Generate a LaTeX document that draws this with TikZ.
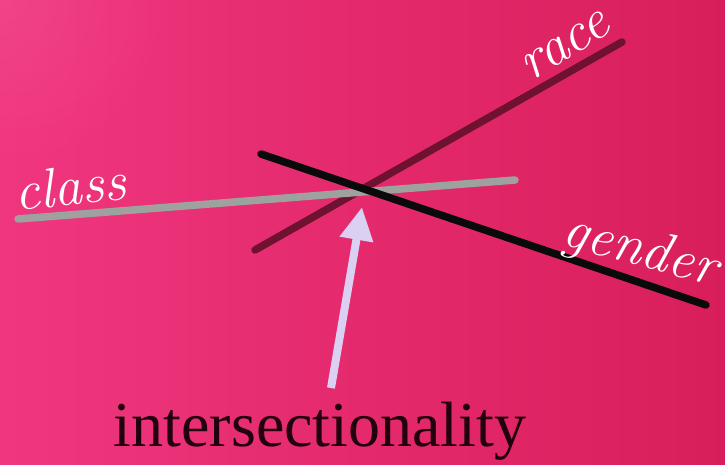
\documentclass[tikz,border=0pt]{standalone}
\usepackage{fontspec}
\usetikzlibrary{arrows.meta}
\newfontfamily\serifbig{Liberation Serif}
\definecolor{bgA}{HTML}{F0367F}
\definecolor{bgB}{HTML}{D81E5A}
\definecolor{classgrey}{HTML}{9EA29E}
\definecolor{racered}{HTML}{6E1230}
\definecolor{genderblk}{HTML}{0A0A0A}
\definecolor{arrowlav}{HTML}{DCD0F2}
\definecolor{titletext}{HTML}{22000E}
\tikzset{
  axisline/.style={line width=7.5pt, line cap=round},
  scriptlabel/.style={text=white, font=\itshape\fontsize{56}{60}\selectfont, inner sep=0pt},
  bigarrow/.style={draw=arrowlav, line width=8pt, -{Triangle[width=32pt,length=33pt]}, fill=arrowlav}
}
\begin{document}
\begin{tikzpicture}[x=1pt,y=-1pt]
\useasboundingbox (0,0) rectangle (725,464);
\shade[left color=bgA, right color=bgB] (0,0) rectangle (725,464);
\shade[inner color=bgA!80!white, outer color=bgA, opacity=0.35] (0,0) circle (160);
% line ends
\coordinate (raceA) at (255,250);
\coordinate (raceB) at (622,42);
\coordinate (classA) at (18,219);
\coordinate (classB) at (515,180);
\coordinate (genA) at (261,154);
\coordinate (genB) at (706,305);
\coordinate (arrowS) at (331,388);
\coordinate (arrowT) at (362,207);
\draw[axisline, racered] (raceA) -- (raceB);
\draw[axisline, classgrey] (classA) -- (classB);
\draw[axisline, genderblk] (genA) -- (genB);
\draw[bigarrow] (arrowS) -- (arrowT);
% labels
\node[scriptlabel, rotate=6] (classlbl) at (70,186) {class};
\node[scriptlabel, rotate=32] (racelbl) at (566,46) {race};
\node[scriptlabel, rotate=-15] (genlbl) at (640,252) {gender};
\node[anchor=base, text=titletext, font=\serifbig\fontsize{64}{70}\selectfont, inner sep=0pt] (title) at (320,446) {intersectionality};
\end{tikzpicture}
\end{document}
